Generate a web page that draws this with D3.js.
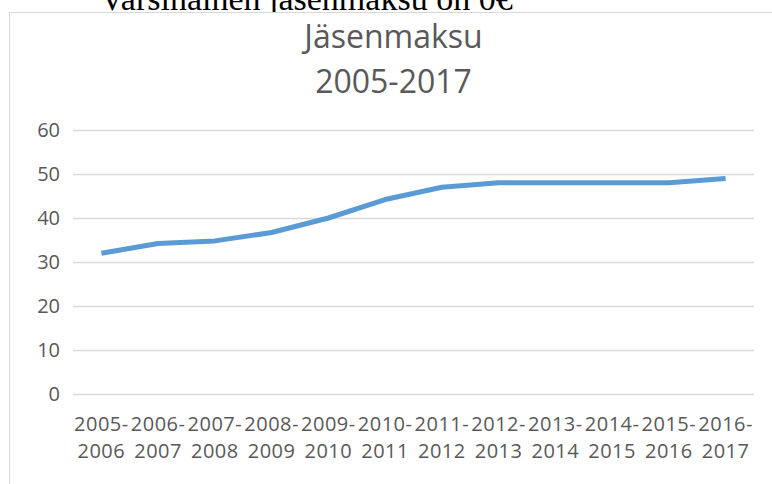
<!DOCTYPE html>
<html>
<head>
<meta charset="utf-8">
<script src="https://cdn.jsdelivr.net/npm/d3@7"></script>
<style>
  body { margin: 0; background: #fff; }
  svg { display: block; }
</style>
</head>
<body>
<div id="chart"></div>
<script>
var categories = ["2005-2006","2006-2007","2007-2008","2008-2009","2009-2010","2010-2011",
                  "2011-2012","2012-2013","2013-2014","2014-2015","2015-2016","2016-2017"];
var fee = [32, 34.2, 34.8, 36.7, 40, 44.2, 47, 48, 48, 48, 48, 49];
var yTicks = [0, 10, 20, 30, 40, 50, 60];
var titleLines = ["Jäsenmaksu", "2005-2017"];
var noteText = "Varsinainen jäsenmaksu on 0€";

var W = 772, H = 484;
var plotLeft = 73, plotRight = 754, plotTop = 130, plotBottom = 394;
var grey = "#595959";
var font = "'Open Sans', sans-serif";

var svg = d3.select("#chart").append("svg")
	.attr("width", W).attr("height", H);

// text from the page behind the chart, mostly hidden
svg.append("text")
	.attr("x", 100).attr("y", 10)
	.attr("font-family", "'Liberation Serif', serif")
	.attr("font-size", 34)
	.attr("fill", "#000")
	.text(noteText);

// chart area box
svg.append("rect")
	.attr("x", 9.5).attr("y", 12.5)
	.attr("width", W).attr("height", H)
	.attr("fill", "#fff")
	.attr("stroke", "#d9d9d9");

svg.selectAll(".title").data(titleLines).enter().append("text")
	.attr("class", "title")
	.attr("x", 393.5)
	.attr("y", function(d, i){ return 48 + i * 44.5; })
	.attr("text-anchor", "middle")
	.attr("font-family", font)
	.attr("font-size", 32)
	.attr("fill", grey)
	.text(function(d){ return d; });

var x = d3.scaleBand().domain(categories).range([plotLeft, plotRight]);
var y = d3.scaleLinear().domain([0, 60]).range([plotBottom, plotTop]);

var yAxis = svg.append("g")
	.attr("transform", "translate(" + plotLeft + ",0)")
	.call(d3.axisLeft(y).tickValues(yTicks).tickSize(-(plotRight - plotLeft)).tickPadding(13));
yAxis.select(".domain").remove();
yAxis.selectAll("line").attr("stroke", "#d9d9d9").attr("stroke-width", 1.3);
yAxis.selectAll("text")
	.attr("font-family", font).attr("font-size", 20).attr("fill", grey);

var xAxis = svg.append("g")
	.attr("transform", "translate(0," + plotBottom + ")")
	.call(d3.axisBottom(x).tickSize(0).tickFormat(""));
xAxis.select(".domain").remove();
xAxis.selectAll(".tick").each(function(d){
	var parts = d.split("-");
	var t = d3.select(this).append("text")
		.attr("text-anchor", "middle")
		.attr("font-family", font).attr("font-size", 20)
		.attr("letter-spacing", 0.5).attr("fill", grey);
	t.append("tspan").attr("x", 0).attr("y", 37).text(parts[0] + "-");
	t.append("tspan").attr("x", 0).attr("y", 64).text(parts[1]);
});

var line = d3.line()
	.x(function(d, i){ return x(categories[i]) + x.bandwidth() / 2; })
	.y(function(d){ return y(d); });

svg.append("path")
	.datum(fee)
	.attr("d", line)
	.attr("fill", "none")
	.attr("stroke", "#5b9bd5")
	.attr("stroke-width", 5)
	.attr("stroke-linejoin", "round");
</script>
</body>
</html>
